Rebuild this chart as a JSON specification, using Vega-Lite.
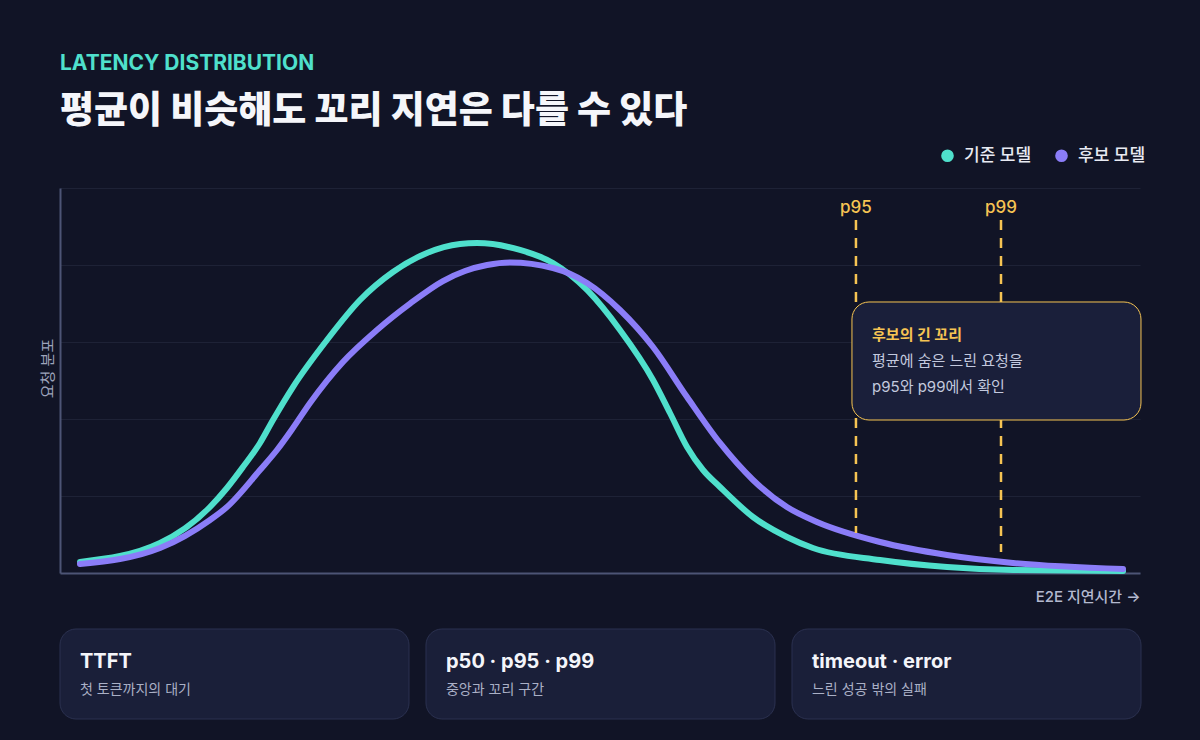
{
  "$schema": "https://vega.github.io/schema/vega-lite/v6.json",
  "background": "#111426",
  "padding": {"left": 40, "top": 53, "right": 70, "bottom": 30},
  "config": {
    "view": {"stroke": null},
    "font": "Inter, Noto Sans CJK KR, sans-serif"
  },
  "title": {
    "text": "LATENCY DISTRIBUTION",
    "subtitle": "평균이 비슷해도 꼬리 지연은 다를 수 있다",
    "anchor": "start",
    "frame": "group",
    "font": "Inter, Noto Sans CJK KR, sans-serif",
    "fontSize": 21,
    "fontWeight": 700,
    "color": "#4fe0cc",
    "subtitleFont": "Inter, Noto Sans CJK KR, sans-serif",
    "subtitleFontSize": 37,
    "subtitleFontWeight": 800,
    "subtitleColor": "#f5f6fa",
    "subtitlePadding": 20,
    "offset": 17
  },
  "datasets": {
    "curves": [
      {"model": "기준 모델", "t": 1.85, "d": 2.86},
      {"model": "기준 모델", "t": 9.26, "d": 7.79},
      {"model": "기준 모델", "t": 13.89, "d": 17.14},
      {"model": "기준 모델", "t": 15.46, "d": 22.08},
      {"model": "기준 모델", "t": 16.94, "d": 27.53},
      {"model": "기준 모델", "t": 18.52, "d": 33.77},
      {"model": "기준 모델", "t": 19.72, "d": 39.74},
      {"model": "기준 모델", "t": 21.57, "d": 48.31},
      {"model": "기준 모델", "t": 24.72, "d": 60.52},
      {"model": "기준 모델", "t": 27.78, "d": 70.91},
      {"model": "기준 모델", "t": 30.83, "d": 78.18},
      {"model": "기준 모델", "t": 33.98, "d": 83.12},
      {"model": "기준 모델", "t": 37.04, "d": 85.45},
      {"model": "기준 모델", "t": 38.61, "d": 85.71},
      {"model": "기준 모델", "t": 42.59, "d": 83.9},
      {"model": "기준 모델", "t": 45.65, "d": 80.52},
      {"model": "기준 모델", "t": 48.8, "d": 73.51},
      {"model": "기준 모델", "t": 51.85, "d": 63.12},
      {"model": "기준 모델", "t": 54.91, "d": 50.13},
      {"model": "기준 모델", "t": 56.48, "d": 41.56},
      {"model": "기준 모델", "t": 58.06, "d": 32.73},
      {"model": "기준 모델", "t": 59.54, "d": 26.75},
      {"model": "기준 모델", "t": 61.11, "d": 22.34},
      {"model": "기준 모델", "t": 64.17, "d": 14.55},
      {"model": "기준 모델", "t": 67.31, "d": 9.35},
      {"model": "기준 모델", "t": 69.72, "d": 6.49},
      {"model": "기준 모델", "t": 75.93, "d": 3.38},
      {"model": "기준 모델", "t": 82.13, "d": 1.56},
      {"model": "기준 모델", "t": 88.24, "d": 0.78},
      {"model": "기준 모델", "t": 98.43, "d": 0.52},
      {"model": "후보 모델", "t": 1.85, "d": 2.34},
      {"model": "후보 모델", "t": 9.26, "d": 6.49},
      {"model": "후보 모델", "t": 13.89, "d": 13.77},
      {"model": "후보 모델", "t": 15.46, "d": 17.14},
      {"model": "후보 모델", "t": 18.52, "d": 26.75},
      {"model": "후보 모델", "t": 20.09, "d": 31.95},
      {"model": "후보 모델", "t": 21.57, "d": 37.66},
      {"model": "후보 모델", "t": 23.15, "d": 44.16},
      {"model": "후보 모델", "t": 26.2, "d": 54.81},
      {"model": "후보 모델", "t": 29.35, "d": 63.12},
      {"model": "후보 모델", "t": 32.41, "d": 69.97},
      {"model": "후보 모델", "t": 35.46, "d": 75.84},
      {"model": "후보 모델", "t": 37.5, "d": 78.44},
      {"model": "후보 모델", "t": 39.54, "d": 80.0},
      {"model": "후보 모델", "t": 41.67, "d": 80.65},
      {"model": "후보 모델", "t": 45.65, "d": 79.22},
      {"model": "후보 모델", "t": 48.8, "d": 75.32},
      {"model": "후보 모델", "t": 51.85, "d": 68.31},
      {"model": "후보 모델", "t": 54.91, "d": 58.7},
      {"model": "후보 모델", "t": 58.06, "d": 45.71},
      {"model": "후보 모델", "t": 61.11, "d": 33.77},
      {"model": "후보 모델", "t": 64.17, "d": 24.16},
      {"model": "후보 모델", "t": 67.31, "d": 17.14},
      {"model": "후보 모델", "t": 70.09, "d": 13.25},
      {"model": "후보 모델", "t": 75.93, "d": 8.05},
      {"model": "후보 모델", "t": 82.13, "d": 4.68},
      {"model": "후보 모델", "t": 88.24, "d": 2.6},
      {"model": "후보 모델", "t": 98.43, "d": 1.04}
    ],
    "percentiles": [
      {"label": "p95", "t": 73.7, "top": 91.7, "bottom": 10.4},
      {"label": "p99", "t": 87.13, "top": 91.7, "bottom": 5.45}
    ],
    "box": [
      {"x0": 73.33, "x1": 100.09, "y0": 70.39, "y1": 39.74}
    ],
    "noteHead": [
      {"text": "후보의 긴 꼬리", "t": 75.19, "d": 60.5}
    ],
    "noteBody": [
      {"text": "평균에 숨은 느린 요청을", "t": 75.19, "d": 53.8},
      {"text": "p95와 p99에서 확인", "t": 75.19, "d": 47.0}
    ],
    "cards": [
      {"title": "TTFT", "sub": "첫 토큰까지의 대기"},
      {"title": "p50 · p95 · p99", "sub": "중앙과 꼬리 구간"},
      {"title": "timeout · error", "sub": "느린 성공 밖의 실패"}
    ]
  },
  "spacing": 56,
  "bounds": "flush",
  "vconcat": [
    {
      "width": 1080,
      "height": 385,
      "layer": [
        {
          "data": {"name": "curves"},
          "mark": {"type": "line", "interpolate": "monotone", "strokeWidth": 6, "strokeCap": "round"},
          "encoding": {
            "x": {
              "field": "t", "type": "quantitative",
              "scale": {"domain": [0, 100]},
              "axis": {
                "domainColor": "#4d5475", "domainWidth": 2, "ticks": false, "labels": false, "grid": false,
                "title": "E2E 지연시간 →", "titleX": 1080, "titleY": 28, "titleAlign": "right", "titleAnchor": "end",
                "titleBaseline": "alphabetic", "titleFontSize": 15, "titleFontWeight": 500, "titleColor": "#b3b9cf"
              }
            },
            "y": {
              "field": "d", "type": "quantitative",
              "scale": {"domain": [0, 100]},
              "axis": {
                "values": [0, 20, 40, 60, 80, 100], "grid": true, "gridColor": "#1e2236", "gridWidth": 1,
                "domainColor": "#4d5475", "domainWidth": 2, "ticks": false, "labels": false,
                "title": "요청 분포", "titleX": -8, "titleY": 180, "titleAngle": -90, "titleAlign": "center",
                "titleBaseline": "alphabetic", "titleFontSize": 15, "titleFontWeight": 400, "titleColor": "#9ea4bc"
              }
            },
            "color": {
              "field": "model", "type": "nominal",
              "scale": {"domain": ["기준 모델", "후보 모델"], "range": ["#4fe0cc", "#8b7df8"]},
              "legend": {
                "orient": "none", "legendX": 879, "legendY": -41, "direction": "horizontal", "title": null,
                "symbolType": "circle", "symbolSize": 160, "labelFontSize": 17, "labelColor": "#e8eaf2",
                "labelFontWeight": 500, "labelOffset": 8, "columnPadding": 21,
                "encode": {"symbols": {"update": {"fill": {"scale": "color", "field": "value"}, "strokeWidth": {"value": 0}, "opacity": {"value": 1}}}}
              }
            }
          }
        },
        {
          "data": {"name": "percentiles"},
          "mark": {"type": "rule", "strokeDash": [10, 8], "strokeWidth": 2.5, "color": "#f6c453"},
          "encoding": {
            "x": {"field": "t", "type": "quantitative"},
            "y": {"field": "top", "type": "quantitative"},
            "y2": {"field": "bottom"}
          }
        },
        {
          "data": {"name": "percentiles"},
          "mark": {"type": "text", "dy": -7, "baseline": "alphabetic", "fontSize": 17, "fontWeight": 500, "color": "#f6c453"},
          "encoding": {
            "x": {"field": "t", "type": "quantitative"},
            "y": {"field": "top", "type": "quantitative"},
            "text": {"field": "label"}
          }
        },
        {
          "data": {"name": "box"},
          "mark": {"type": "rect", "fill": "#1a1f3a", "stroke": "#f6c453", "strokeWidth": 1, "cornerRadius": 17},
          "encoding": {
            "x": {"field": "x0", "type": "quantitative"},
            "x2": {"field": "x1"},
            "y": {"field": "y0", "type": "quantitative"},
            "y2": {"field": "y1"}
          }
        },
        {
          "data": {"name": "noteHead"},
          "mark": {"type": "text", "align": "left", "baseline": "alphabetic", "fontSize": 15, "fontWeight": 700, "color": "#f6c453"},
          "encoding": {
            "x": {"field": "t", "type": "quantitative"},
            "y": {"field": "d", "type": "quantitative"},
            "text": {"field": "text"}
          }
        },
        {
          "data": {"name": "noteBody"},
          "mark": {"type": "text", "align": "left", "baseline": "alphabetic", "fontSize": 15, "fontWeight": 400, "color": "#c3c9de"},
          "encoding": {
            "x": {"field": "t", "type": "quantitative"},
            "y": {"field": "d", "type": "quantitative"},
            "text": {"field": "text"}
          }
        }
      ]
    },
    {
      "width": 1081,
      "height": 90,
      "data": {"name": "cards"},
      "layer": [
        {
          "mark": {"type": "rect", "fill": "#1a1f39", "stroke": "#2b3150", "strokeWidth": 1, "cornerRadius": 16},
          "encoding": {
            "x": {"field": "title", "type": "nominal", "sort": null, "scale": {"paddingInner": 0.0464, "paddingOuter": 0}, "axis": null}
          }
        },
        {
          "mark": {"type": "text", "align": "left", "baseline": "alphabetic", "dx": 20, "dy": -6, "fontSize": 20, "fontWeight": 700, "color": "#f4f5fa"},
          "encoding": {
            "x": {"field": "title", "type": "nominal", "sort": null, "bandPosition": 0, "axis": null},
            "text": {"field": "title"}
          }
        },
        {
          "mark": {"type": "text", "align": "left", "baseline": "alphabetic", "dx": 20, "dy": 20, "fontSize": 14, "fontWeight": 400, "color": "#aab0c6"},
          "encoding": {
            "x": {"field": "title", "type": "nominal", "sort": null, "bandPosition": 0, "axis": null},
            "text": {"field": "sub"}
          }
        }
      ]
    }
  ]
}
